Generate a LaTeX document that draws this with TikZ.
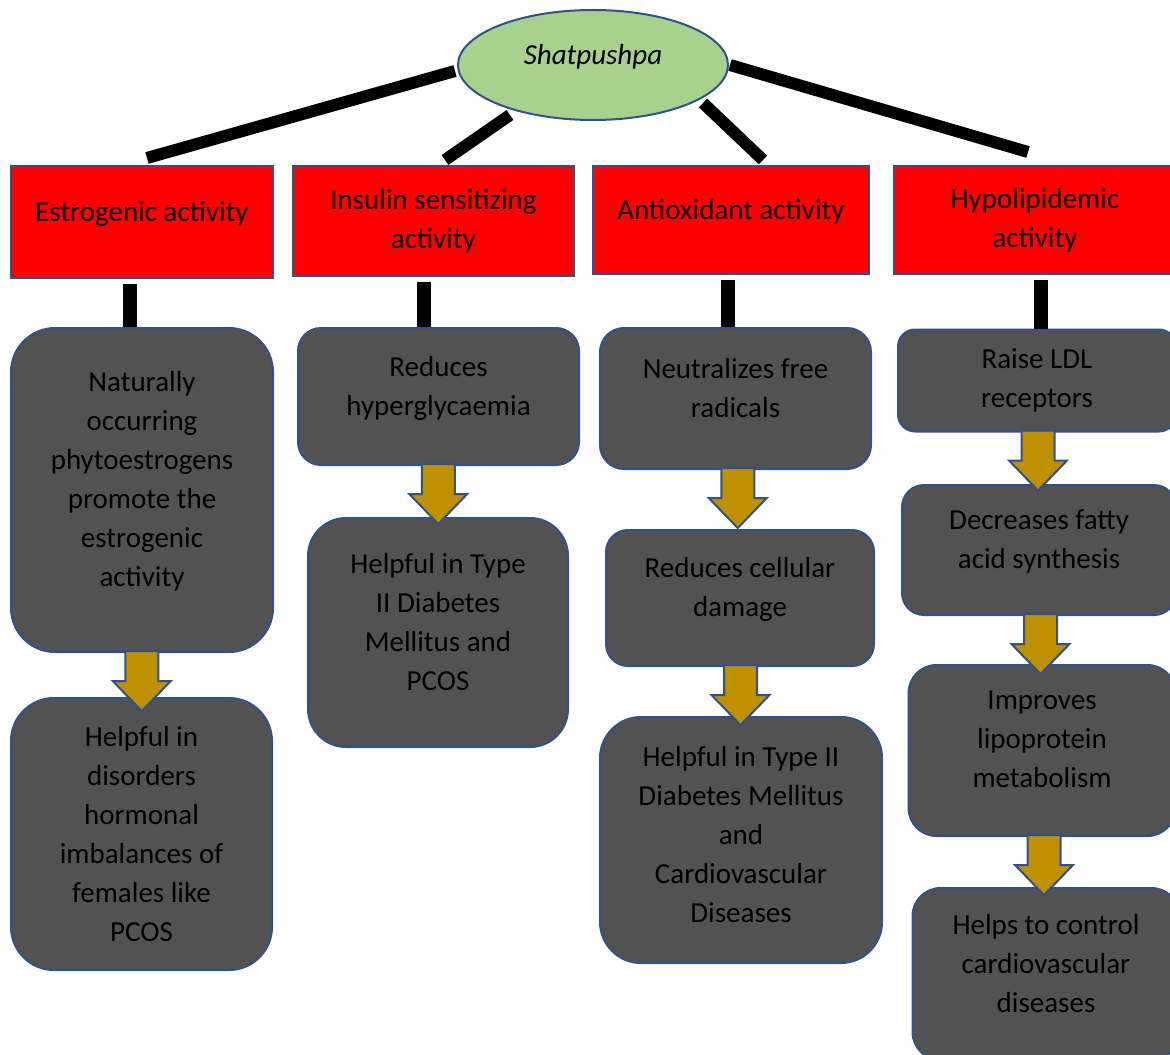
\documentclass[tikz,border=0pt]{standalone}
\usepackage{fontspec}
\setmainfont{Carlito}
\usepackage{tikz}
\usetikzlibrary{shapes.geometric}
\usetikzlibrary{calc}
\definecolor{herb}{HTML}{A9D18E}
\definecolor{rim}{HTML}{2F528F}
\definecolor{slate}{HTML}{525252}
\definecolor{gold}{HTML}{BF9000}
\newcommand{\boxfont}{\fontsize{14.5}{19.5}\selectfont}
\newcommand{\flowarrow}[2]{%
  \draw[flow] let \p1=(#1.south), \p2=(#2.north), \n1={(\x1+\x2)/2} in
    (\n1-8.25pt,\y1+1pt) -- (\n1-8.25pt,\y1-14pt) -- (\n1-14.5pt,\y1-14pt)
    -- (\n1,\y1-29pt) -- (\n1+14.5pt,\y1-14pt) -- (\n1+8.25pt,\y1-14pt)
    -- (\n1+8.25pt,\y1+1pt) -- cycle;}
\tikzset{
  % node options
  lift/.style={execute at end node={\rule[-#1]{0pt}{0pt}}},
  lift/.default=11pt,
  plant/.style={ellipse,draw=rim,fill=herb,line width=1pt,inner sep=0pt,
    font=\boxfont\itshape,lift},
  activity/.style={rectangle,draw=rim,fill=red,line width=0.8pt,align=center,
    font=\boxfont},
  effect/.style={rectangle,draw=rim,fill=slate,line width=1pt,align=center,
    rounded corners=#1,font=\boxfont},
  effect/.default=20pt,
  % path options
  branch/.style={line width=6pt},
  stem/.style={line width=7pt},
  flow/.style={draw=rim,fill=gold,line width=1pt},
}
\begin{document}
\begin{tikzpicture}[x=0.5pt,y=-0.5pt]
    \useasboundingbox (0,0) rectangle (1170,1054);
    \clip (0,0) rectangle (1170,1054);
    % branches from the herb
    \coordinate (branch1a) at (455,71);  \coordinate (branch1b) at (147,158);
    \coordinate (branch2a) at (510,115); \coordinate (branch2b) at (445,160);
    \coordinate (branch3a) at (703,103); \coordinate (branch3b) at (763,160);
    \coordinate (branch4a) at (730,65);  \coordinate (branch4b) at (1028,152);
    \draw[branch] (branch1a) -- (branch1b);
    \draw[branch] (branch2a) -- (branch2b);
    \draw[branch] (branch3a) -- (branch3b);
    \draw[branch] (branch4a) -- (branch4b);
    \node[plant,minimum width=135pt,minimum height=55pt] (shatpushpa) at (593,65) {Shatpushpa};
    % activities
    \node[activity,lift,minimum width=131pt,minimum height=56pt] (estrogenic) at (142,222) {Estrogenic activity};
    \node[activity,minimum width=140.5pt,minimum height=55pt] (insulin) at (433.5,221) {Insulin sensitizing\\activity};
    \node[activity,lift,minimum width=138pt,minimum height=54pt] (antioxidant) at (731,220) {Antioxidant activity};
    \node[activity,minimum width=141pt,minimum height=54pt] (hypolipidemic) at (1035,220) {Hypolipidemic\\activity};
    % effects
    \node[effect=22pt,lift,minimum width=131pt,minimum height=162pt] (phyto) at (142,490)
      {Naturally\\occurring\\phytoestrogens\\promote the\\estrogenic\\activity};
    \node[effect=21.5pt,minimum width=130.5pt,minimum height=136pt] (disorders) at (141.5,834)
      {Helpful in\\disorders\\hormonal\\imbalances of\\females like\\PCOS};
    \node[effect=11.5pt,lift,minimum width=140.5pt,minimum height=68.5pt] (hyperglycaemia) at (438.5,396.5)
      {Reduces\\hyperglycaemia};
    \node[effect=19pt,lift,minimum width=130pt,minimum height=114.5pt] (diabetes) at (438,632.5)
      {Helpful in Type\\II Diabetes\\Mellitus and\\PCOS};
    \node[effect=12pt,lift,minimum width=135.5pt,minimum height=70.5pt] (radicals) at (735.5,398.5)
      {Neutralizes free\\radicals};
    \node[effect=11pt,lift,minimum width=134pt,minimum height=68pt] (damage) at (740,598)
      {Reduces cellular\\damage};
    \node[effect=20.5pt,lift=6pt,minimum width=141pt,minimum height=123pt] (cardio) at (741,840)
      {Helpful in Type II\\Diabetes Mellitus\\and\\Cardiovascular\\Diseases};
    \node[effect=8.5pt,minimum width=139pt,minimum height=51pt] (ldl) at (1037,380.5)
      {Raise LDL\\receptors};
    \node[effect=11pt,lift,minimum width=137pt,minimum height=65pt] (fatty) at (1039,550)
      {Decreases fatty\\acid synthesis};
    \node[effect=14pt,lift,minimum width=133.5pt,minimum height=85.5pt] (lipoprotein) at (1042,750.5)
      {Improves\\lipoprotein\\metabolism};
    \node[effect=14pt,lift,minimum width=133.5pt,minimum height=86pt] (control) at (1046,974)
      {Helps to control\\cardiovascular\\diseases};
    % stems
    \draw[stem] ([xshift=-6pt,yshift=-2.5pt]estrogenic.south) -- ([xshift=-6pt]estrogenic.south |- phyto.north);
    \draw[stem] ([xshift=-5pt,yshift=-2.5pt]insulin.south) -- ([xshift=-5pt]insulin.south |- hyperglycaemia.north);
    \draw[stem] ([xshift=-1.5pt,yshift=-2.5pt]antioxidant.south) -- ([xshift=-1.5pt]antioxidant.south |- radicals.north);
    \draw[stem] ([xshift=3pt,yshift=-2.5pt]hypolipidemic.south) -- ([xshift=3pt]hypolipidemic.south |- ldl.north);
    % arrows
    \flowarrow{phyto}{disorders}
    \flowarrow{hyperglycaemia}{diabetes}
    \flowarrow{radicals}{damage}
    \flowarrow{damage}{cardio}
    \flowarrow{ldl}{fatty}
    \flowarrow{fatty}{lipoprotein}
    \flowarrow{lipoprotein}{control}
\end{tikzpicture}
\end{document}
